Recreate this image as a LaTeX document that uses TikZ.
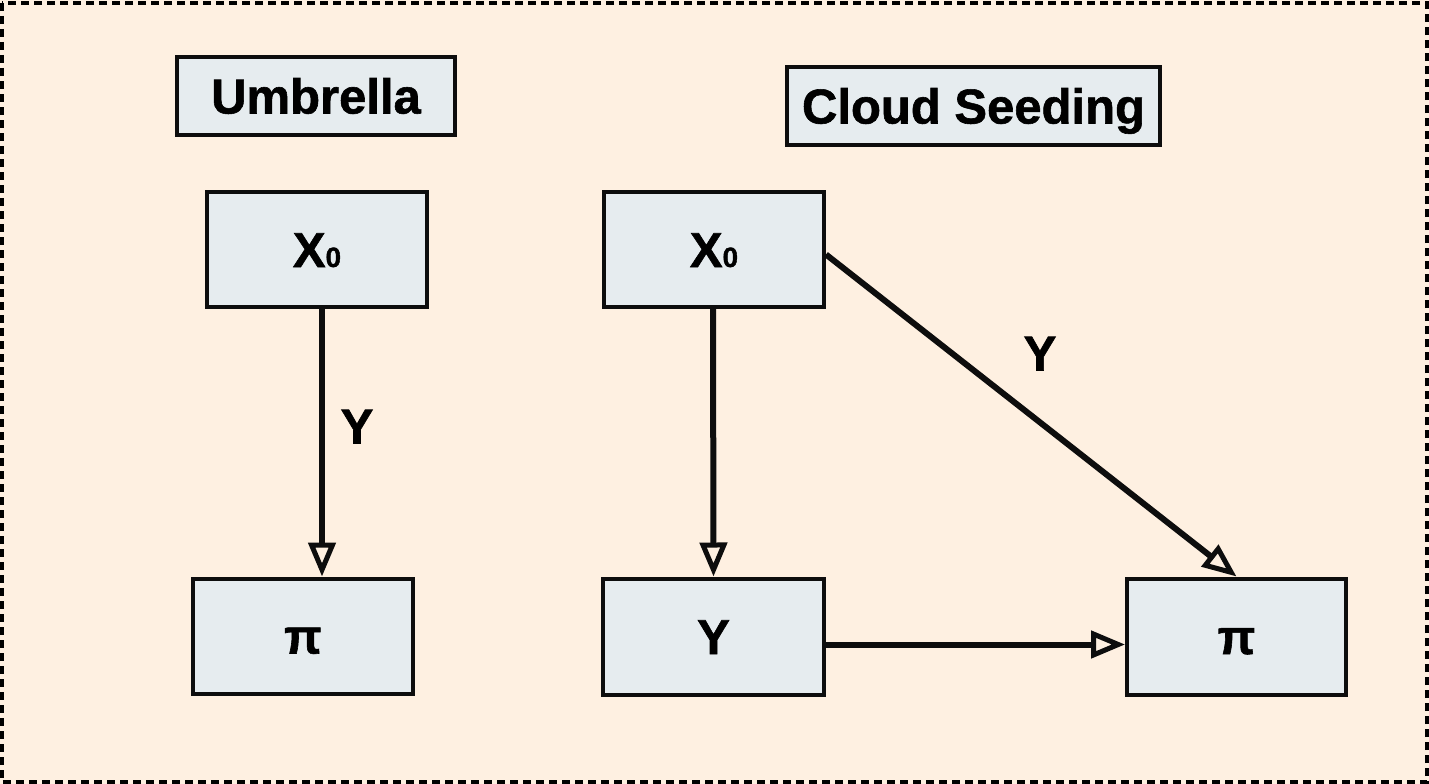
\documentclass[tikz,border=0pt]{standalone}
\usepackage{fontspec}
\setmainfont{Liberation Sans}[BoldFeatures={FakeBold=1.2}]
\usetikzlibrary{arrows.meta}
\definecolor{bgpeach}{RGB}{254,240,225}
\definecolor{boxfill}{RGB}{230,236,239}
\begin{document}
\begin{tikzpicture}[x=1pt,y=-1pt,
  box/.style={draw=black!95,line width=4pt,fill=boxfill,inner sep=0pt,
    text height=35pt,text depth=0pt,font=\bfseries\fontsize{49}{49}\selectfont},
  conn/.style={line width=6pt,draw=black!95,-{Triangle[length=34pt,width=27pt,fill=bgpeach,line width=5pt]}},
  lbl/.style={font=\bfseries\fontsize{49}{49}\selectfont,inner sep=0pt,text height=35pt,text depth=0pt}]
\useasboundingbox (0,0) rectangle (1429,784);
\fill[bgpeach] (0,0) rectangle (1429,784);
\draw[line width=3.5pt,dash pattern=on 8pt off 5pt] (2,3) rectangle (1427,782);

\node[box,minimum width=278pt,minimum height=78pt] (umb) at (316,96) {Umbrella};
\node[box,minimum width=220pt,minimum height=115pt] (xl) at (317,249.5) {X{\fontsize{28}{28}\selectfont 0}};
\node[box,minimum width=220pt,minimum height=115pt] (pil) at (303,636) {π};

\node[box,minimum width=373pt,minimum height=78pt] (cs) at (973.5,106) {Cloud Seeding};
\node[box,minimum width=220pt,minimum height=115pt] (xr) at (714,249.5) {X{\fontsize{28}{28}\selectfont 0}};
\node[box,minimum width=221pt,minimum height=116pt] (yb) at (713.5,636.5) {Y};
\node[box,minimum width=219pt,minimum height=116pt] (pir) at (1236.5,636.5) {π};

\draw[conn] ([xshift=5pt]xl.south) -- ([xshift=19pt]pil.north);
\draw[conn] ([xshift=-1pt]xr.south) -- (yb.north);
\draw[conn] ([yshift=-5pt]xr.east) -- (pir.north);
\draw[conn] ([yshift=-8pt]yb.east) -- ([yshift=-8pt]pir.west);

\node[lbl] (ly1) at (357,426) {Y};
\node[lbl] (ly2) at (1040,353) {Y};
\end{tikzpicture}
\end{document}
